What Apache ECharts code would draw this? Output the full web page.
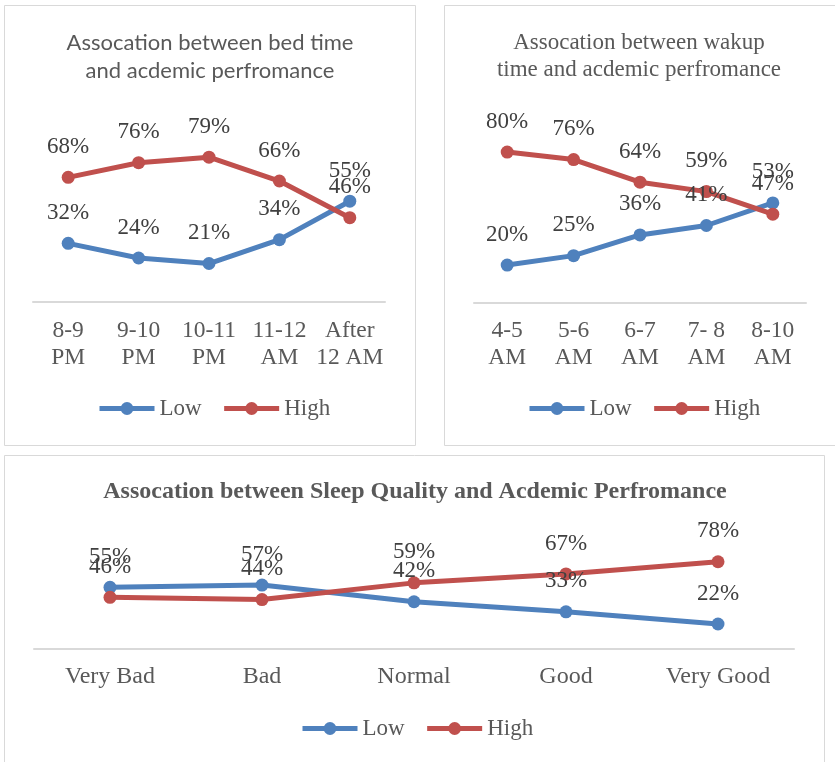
<!DOCTYPE html>
<html>
<head>
<meta charset="utf-8">
<script src="https://cdn.jsdelivr.net/npm/echarts@6/dist/echarts.min.js"></script>
<style>
  html, body { margin: 0; padding: 0; background: #ffffff; }
  #chart { width: 835px; height: 762px; }
</style>
</head>
<body>
<div id="chart"></div>
<script>
// Bed time vs. academic performance
const bedCategories = ['8-9\nPM', '9-10\nPM', '10-11\nPM', '11-12\nAM', 'After\n12 AM'];
const bedLow = [32, 24, 21, 34, 55];
const bedHigh = [68, 76, 79, 66, 46];

// Wake-up time vs. academic performance
const wakeCategories = ['4-5\nAM', '5-6\nAM', '6-7\nAM', '7- 8\nAM', '8-10\nAM'];
const wakeLow = [20, 25, 36, 41, 53];
const wakeHigh = [80, 76, 64, 59, 47];

// Sleep quality vs. academic performance
const qualityCategories = ['Very Bad', 'Bad', 'Normal', 'Good', 'Very Good'];
const qualityLow = [55, 57, 42, 33, 22];
const qualityHigh = [46, 44, 59, 67, 78];

const seriesNames = ['Low', 'High'];

const BLUE = '#4f81bd';
const RED = '#c0504d';
const SERIF = 'Liberation Serif';
const TEXT = '#595959';

const chart = echarts.init(document.getElementById('chart'), null, { renderer: 'canvas' });

function xAxisFor(gridIndex, cats, size) {
  return {
    type: 'category',
    gridIndex: gridIndex,
    data: cats,
    boundaryGap: true,
    axisLine: { lineStyle: { color: '#d9d9d9', width: 2 } },
    axisTick: { show: false },
    splitLine: { show: false },
    axisLabel: {
      interval: 0,
      margin: 15,
      fontFamily: SERIF,
      fontSize: size,
      lineHeight: 27,
      color: TEXT
    }
  };
}

function yAxisFor(gridIndex) {
  return { type: 'value', gridIndex: gridIndex, min: 0, max: 100, show: false };
}

function lineSeries(name, data, color, idx) {
  return {
    name: name,
    type: 'line',
    xAxisIndex: idx,
    yAxisIndex: idx,
    data: data,
    symbol: 'circle',
    symbolSize: 13,
    lineStyle: { color: color, width: 5 },
    itemStyle: { color: color },
    label: {
      show: true,
      position: 'top',
      distance: 13,
      formatter: '{c}%',
      fontFamily: SERIF,
      fontSize: 23,
      lineHeight: 22,
      color: '#404040'
    },
    emphasis: { disabled: true },
    animation: false
  };
}

function legendAt(left, top) {
  return {
    data: seriesNames,
    left: left,
    top: top,
    padding: 0,
    itemWidth: 55,
    itemHeight: 16,
    itemGap: 20,
    selectedMode: false,
    lineStyle: { width: 5 },
    textStyle: { fontFamily: SERIF, fontSize: 23, color: TEXT }
  };
}

const option = {
  backgroundColor: '#ffffff',
  animation: false,
  grid: [
    { left: 33, top: 118.7, width: 352, height: 183.3 },
    { left: 474, top: 114.4, width: 332, height: 188.3 },
    { left: 34, top: 537.25, width: 760, height: 111.25 }
  ],
  xAxis: [
    xAxisFor(0, bedCategories, 23.5),
    xAxisFor(1, wakeCategories, 23.5),
    xAxisFor(2, qualityCategories, 24)
  ],
  yAxis: [yAxisFor(0), yAxisFor(1), yAxisFor(2)],
  legend: [legendAt(97, 397), legendAt(527, 397), legendAt(300, 717)],
  series: [
    lineSeries(seriesNames[0], bedLow, BLUE, 0),
    lineSeries(seriesNames[1], bedHigh, RED, 0),
    lineSeries(seriesNames[0], wakeLow, BLUE, 1),
    lineSeries(seriesNames[1], wakeHigh, RED, 1),
    lineSeries(seriesNames[0], qualityLow, BLUE, 2),
    lineSeries(seriesNames[1], qualityHigh, RED, 2)
  ],
  graphic: [
    // panel frames
    { type: 'rect', silent: true, z: -1, shape: { x: 4.5, y: 5.5, width: 411, height: 440 },
      style: { fill: 'none', stroke: '#d9d9d9', lineWidth: 1 } },
    { type: 'rect', silent: true, z: -1, shape: { x: 444.5, y: 5.5, width: 395, height: 440 },
      style: { fill: 'none', stroke: '#d9d9d9', lineWidth: 1 } },
    { type: 'rect', silent: true, z: -1, shape: { x: 4.5, y: 455.5, width: 820, height: 320 },
      style: { fill: 'none', stroke: '#d9d9d9', lineWidth: 1 } },
    // titles
    { type: 'text', silent: true, x: 210, y: 57,
      style: { text: 'Assocation between bed time\nand acdemic perfromance', fontFamily: 'Lato',
        fontSize: 22, lineHeight: 28, fill: TEXT, align: 'center', verticalAlign: 'middle' } },
    { type: 'text', silent: true, x: 639, y: 56,
      style: { text: 'Assocation between wakup\ntime and acdemic perfromance', fontFamily: SERIF,
        fontSize: 23, lineHeight: 27, fill: TEXT, align: 'center', verticalAlign: 'middle' } },
    { type: 'text', silent: true, x: 415, y: 492,
      style: { text: 'Assocation between Sleep Quality and Acdemic Perfromance', fontFamily: SERIF,
        fontSize: 24, fontWeight: 'bold', fill: TEXT, align: 'center', verticalAlign: 'middle' } }
  ]
};

chart.setOption(option);
</script>
</body>
</html>
